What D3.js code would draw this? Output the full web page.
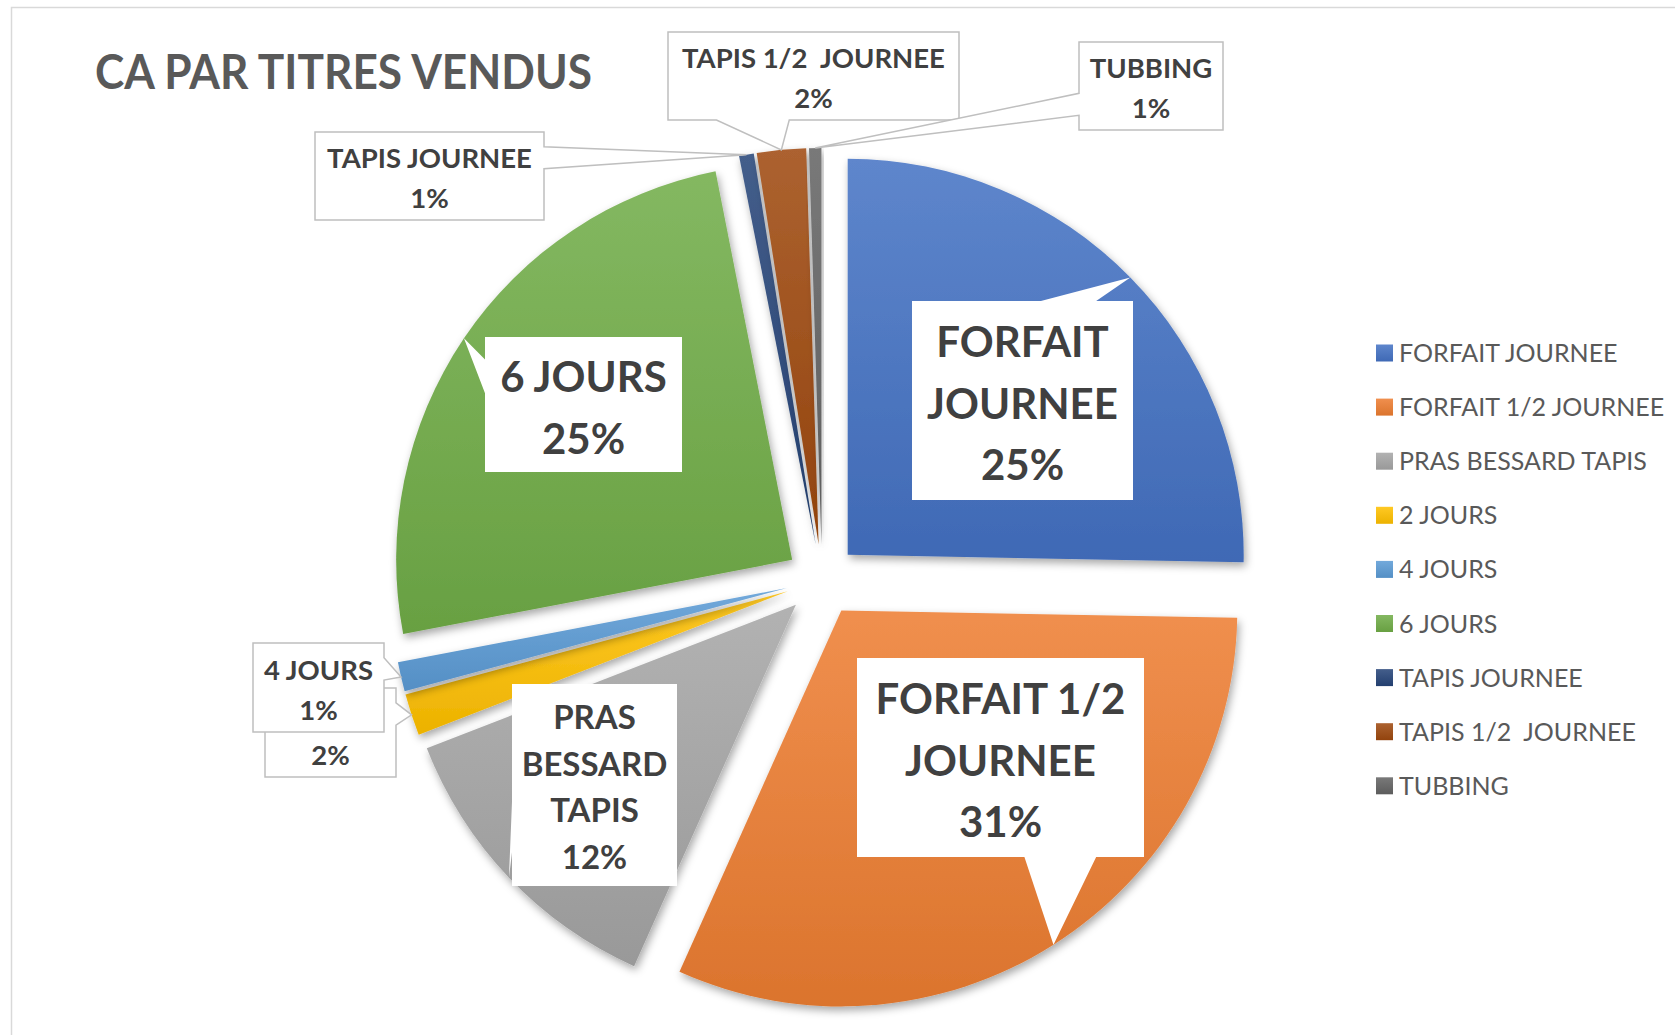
<!DOCTYPE html>
<html>
<head>
<meta charset="utf-8">
<script src="https://cdn.jsdelivr.net/npm/d3@7"></script>
<style>
  body { margin: 0; background: #fff; }
  svg text { font-family: Lato, "Open Sans", sans-serif; white-space: pre; }
</style>
</head>
<body>
<svg id="chart" width="1675" height="1035"></svg>
<script>
//
// Data
//
var title = 'CA PAR TITRES VENDUS'
var categories = ['FORFAIT JOURNEE', 'FORFAIT 1/2 JOURNEE', 'PRAS BESSARD TAPIS', '2 JOURS', '4 JOURS',
  '6 JOURS', 'TAPIS JOURNEE', 'TAPIS 1/2  JOURNEE', 'TUBBING']
// share of turnover, %
var shares = [25.3, 31.4, 12.4, 1.7, 1.2, 24.9, 0.6, 2.0, 0.5]
var baseColors = ['#4472c4', '#ed7d31', '#a5a5a5', '#ffc000', '#5b9bd5', '#70ad47', '#264478', '#9e480e', '#636363']

//
// Layout
//
var cx = 822, cy = 580, radius = 396, explode = 36
// callout boxes, same order as categories
// words = words per line, skip = leading lines hidden under the next box
var labelBoxes = [
  { x: 912, y: 301, w: 221, h: 199, size: 42, lh: 61.5, words: [1, 1], big: true },
  { x: 857, y: 658, w: 287, h: 199, size: 42, lh: 61.5, words: [2, 1], big: true },
  { x: 512, y: 684, w: 165, h: 202, size: 33, lh: 46.7, words: [1, 1, 1], big: true },
  { x: 265, y: 688, w: 131, h: 89, size: 27.5, lh: 40, skip: 1 },
  { x: 253, y: 643, w: 131, h: 89, size: 27.5, lh: 40 },
  { x: 485, y: 337, w: 197, h: 135, size: 42, lh: 61.5, words: [2], big: true },
  { x: 315, y: 132, w: 229, h: 88, size: 27.5, lh: 40 },
  { x: 668, y: 32, w: 291, h: 88, size: 27.5, lh: 40 },
  { x: 1079, y: 42, w: 144, h: 88, size: 27.5, lh: 40 }
]

var svg = d3.select('#chart')
var defs = svg.append('defs')

var shadow = defs.append('filter').attr('id', 'shadow')
  .attr('x', '-20%').attr('y', '-20%').attr('width', '140%').attr('height', '140%')
shadow.append('feDropShadow')
  .attr('dx', 2).attr('dy', 4).attr('stdDeviation', 4)
  .attr('flood-color', '#000').attr('flood-opacity', 0.35)

baseColors.forEach(function(c, i) {
  var g = defs.append('linearGradient').attr('id', 'grad' + i)
    .attr('x1', 0).attr('y1', 0).attr('x2', 0).attr('y2', 1)
  g.append('stop').attr('offset', '0%').attr('stop-color', d3.interpolateRgb(c, '#fff')(0.14))
  g.append('stop').attr('offset', '100%').attr('stop-color', d3.color(c).darker(0.22))
})

// chart area frame
svg.append('rect')
  .attr('x', 11.5).attr('y', 7.5).attr('width', 1800).attr('height', 1200)
  .attr('fill', '#fff').attr('stroke', '#d9d9d9').attr('stroke-width', 1.5)

svg.append('text')
  .attr('x', 95).attr('y', 89)
  .attr('font-size', 47).attr('font-weight', 700).attr('fill', '#595959')
  .attr('textLength', 497).attr('lengthAdjust', 'spacingAndGlyphs')
  .text(title)

//
// Pie
//
var pie = d3.pie().sort(null).value(function(d) { return d })
var arcs = pie(shares)
var arc = d3.arc().innerRadius(0).outerRadius(radius)

function offset(d) {
  var a = (d.startAngle + d.endAngle) / 2
  return [explode * Math.sin(a), -explode * Math.cos(a)]
}

function outerPoint(d) {
  var a = (d.startAngle + d.endAngle) / 2
  var o = offset(d)
  return [cx + o[0] + radius * Math.sin(a), cy + o[1] - radius * Math.cos(a)]
}

svg.append('g')
  .selectAll('path')
  .data(arcs)
  .enter().append('path')
  .attr('transform', function(d) {
    var o = offset(d)
    return 'translate(' + (cx + o[0]) + ',' + (cy + o[1]) + ')'
  })
  .attr('d', arc)
  .attr('fill', function(d, i) { return 'url(#grad' + i + ')' })
  .attr('filter', 'url(#shadow)')

//
// Callouts
//
function calloutPath(b, tip) {
  var x0 = b.x, y0 = b.y, x1 = b.x + b.w, y1 = b.y + b.h
  var dx = (tip[0] - (x0 + b.w / 2)) / b.w
  var dy = (tip[1] - (y0 + b.h / 2)) / b.h
  if (Math.abs(dx) <= 0.5 && Math.abs(dy) <= 0.5) {
    return 'M' + x0 + ',' + y0 + 'H' + x1 + 'V' + y1 + 'H' + x0 + 'Z'
  }
  var t = tip[0] + ',' + tip[1]
  if (Math.abs(dx) > Math.abs(dy)) {
    var f = dy < 0 ? [1 / 6, 5 / 12] : [7 / 12, 5 / 6]
    var ya = y0 + b.h * f[0], yb = y0 + b.h * f[1]
    if (dx < 0) return 'M' + x0 + ',' + y0 + 'H' + x1 + 'V' + y1 + 'H' + x0 + 'V' + yb + 'L' + t + 'L' + x0 + ',' + ya + 'Z'
    return 'M' + x0 + ',' + y0 + 'H' + x1 + 'V' + ya + 'L' + t + 'L' + x1 + ',' + yb + 'V' + y1 + 'H' + x0 + 'Z'
  }
  var g = dx < 0 ? [1 / 6, 5 / 12] : [7 / 12, 5 / 6]
  var xa = x0 + b.w * g[0], xb = x0 + b.w * g[1]
  if (dy < 0) return 'M' + x0 + ',' + y0 + 'H' + xa + 'L' + t + 'L' + xb + ',' + y0 + 'H' + x1 + 'V' + y1 + 'H' + x0 + 'Z'
  return 'M' + x0 + ',' + y0 + 'H' + x1 + 'V' + y1 + 'H' + xb + 'L' + t + 'L' + xa + ',' + y1 + 'H' + x0 + 'Z'
}

function splitLines(name, words) {
  if (!words) return [name]
  var parts = name.split(/\s+/), out = [], k = 0
  words.forEach(function(n) {
    out.push(parts.slice(k, k + n).join(' '))
    k += n
  })
  return out
}

var total = d3.sum(shares)
var labels = svg.append('g')
arcs.forEach(function(d, i) {
  var b = labelBoxes[i]
  var g = labels.append('g')
  g.append('path')
    .attr('d', calloutPath(b, outerPoint(d)))
    .attr('fill', '#fff')
    .attr('stroke', b.big ? 'none' : '#bfbfbf')
    .attr('stroke-width', 1.5)
  var lines = splitLines(categories[i], b.words)
  lines.push(Math.round(d.value / total * 100) + '%')
  var pad = (b.h - lines.length * b.lh) / 2
  var skip = b.skip || 0
  g.selectAll('text')
    .data(lines.map(function(t, k) { return { t: t, k: k } }).filter(function(l) { return l.k >= skip }))
    .enter().append('text')
    .attr('x', b.x + b.w / 2)
    .attr('y', function(l) { return b.y + pad + b.lh * 0.8 + l.k * b.lh })
    .attr('text-anchor', 'middle')
    .attr('font-size', b.size)
    .attr('font-weight', 700)
    .attr('fill', '#404040')
    .text(function(l) { return l.t })
})

//
// Legend
//
var legend = svg.append('g')
  .selectAll('g')
  .data(categories)
  .enter().append('g')
  .attr('transform', function(d, i) { return 'translate(1376,' + (353 + i * 54.1) + ')' })

legend.append('rect')
  .attr('x', 0).attr('y', -8.5).attr('width', 17).attr('height', 17)
  .attr('fill', function(d, i) { return 'url(#grad' + i + ')' })

legend.append('text')
  .attr('x', 23).attr('y', 9)
  .attr('font-size', 25).attr('fill', '#595959')
  .text(function(d) { return d })
</script>
</body>
</html>
